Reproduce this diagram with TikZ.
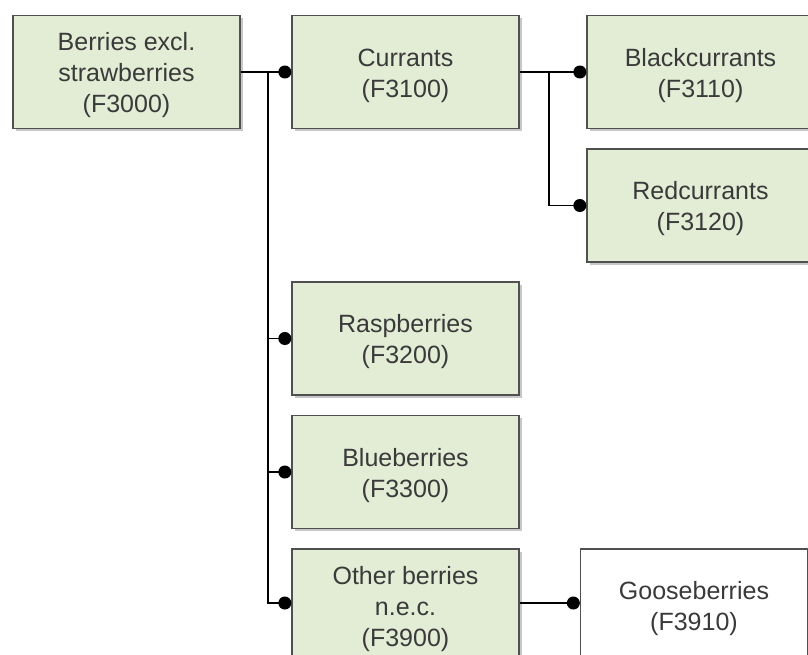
\documentclass[tikz,border=0pt]{standalone}
\usepackage{fontspec}
\setmainfont{Liberation Sans}
\usetikzlibrary{arrows.meta,shadows}
\definecolor{boxfill}{HTML}{E3EDD5}
\definecolor{boxline}{HTML}{505050}
\definecolor{boxtext}{HTML}{3A3A3A}
\begin{document}
\begin{tikzpicture}[x=1pt,y=-1pt,
  txt/.style={align=center, text=boxtext, font=\fontsize{25}{31}\selectfont,
    inner sep=0pt, yshift=-3.5pt},
  item/.style={draw=boxline, line width=1.3pt, fill=boxfill,
    minimum width=227pt, minimum height=113pt, inner sep=0pt,
    drop shadow={shadow xshift=2.5pt, shadow yshift=-2.5pt, fill=black!22, opacity=1},
    label={[txt]center:#1}},
  leaf/.style={item={#1}, fill=white},
  conn/.style={line width=1.4pt, black, -{Circle[length=13pt,width=13pt]}},
  link/.style={line width=1.4pt, black}]
\clip (0,0) rectangle (808,654);
\fill[white] (0,0) rectangle (808,654);

% category boxes
\node[item={Berries excl.\\strawberries\\(F3000)}] (berries) at (126.5,72) {};
\node[item={Currants\\(F3100)}] (currants) at (405.5,72) {};
\node[item={Blackcurrants\\(F3110)}] (black) at (700.5,72) {};
\node[item={Redcurrants\\(F3120)}] (red) at (700.5,205.5) {};
\node[item={Raspberries\\(F3200)}] (rasp) at (405.5,338.5) {};
\node[item={Blueberries\\(F3300)}] (blue) at (405.5,472) {};
\node[item={Other berries\\n.e.c.\\(F3900)}] (other) at (405.5,605.5) {};
\node[leaf={Gooseberries\\(F3910)}] (goose) at (694,605.5) {};

% branch points
\coordinate (j1) at (268,72);
\coordinate (j2) at (549,72);

% connectors
\draw[link] (berries.east) -- (j1);
\draw[conn] (j1) -- (currants.west);
\draw[conn] (j1) |- (rasp.west);
\draw[conn] (j1) |- (blue.west);
\draw[conn] (j1) |- ([yshift=2.5pt]other.west);
\draw[link] (currants.east) -- (j2);
\draw[conn] (j2) -- (black.west);
\draw[conn] (j2) |- (red.west);
\draw[conn] ([yshift=2.5pt]other.east) -- ([yshift=2.5pt]goose.west);
\end{tikzpicture}
\end{document}
